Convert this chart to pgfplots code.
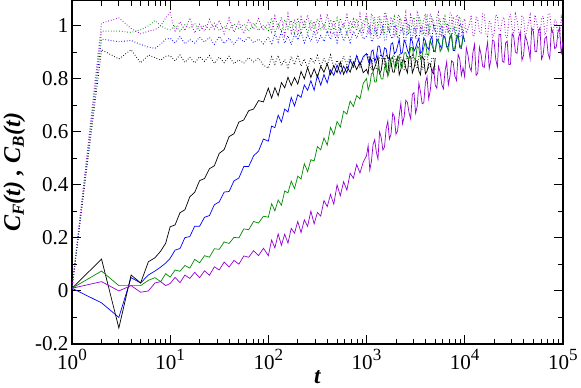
\documentclass[border=0pt]{standalone}
\usepackage{fontspec}
\setmainfont{Liberation Serif}
\usepackage{pgfplots}
\pgfplotsset{compat=1.18}
\usepackage{pgfplotstable}
\definecolor{grgreen}{RGB}{0,139,0}
\definecolor{grviolet}{RGB}{148,0,211}
\newcommand\ee[1]{10\raisebox{0.42em}{\fontsize{17}{17}\selectfont #1}}

% t, then C(t) for black, blue, green, violet; s = solid, d = dotted
\pgfplotstableread{
t bs bd us ud gs gd ps pd
1 0.01 0.01 0.01 0.01 0.01 0.01 0.01 0.01
2 0.12 0.91 -0.045 0.95 0.075 0.98 0.035 1.01
3 -0.14 0.875 -0.10 0.94 0.02 0.98 0.0 1.03
4 0.06 0.91 0.05 0.945 0.02 0.975 0.02 0.99
5 0.03 0.86 0.03 0.93 0.02 0.985 -0.005 0.97
6 0.11 0.89 0.06 0.92 0.04 1.0 0.0 0.98
7 0.125 0.88 0.075 0.915 0.05 1.02 0.03 0.985
8 0.15 0.87 0.09 0.93 0.035 1.0 0.035 1.0
9 0.18 0.885 0.105 0.95 0.065 0.99 0.02 1.03
10 .242 .887 .123 .953 .052 .985 .028 1.05
11.22 .249 .868 .154 .936 .079 1.001 .051 .976
12.59 .295 .890 .160 .960 .074 .980 .031 1.015
14.13 .306 .862 .201 .932 .096 1.004 .060 .982
15.85 .355 .881 .205 .948 .086 .991 .047 1.030
17.78 .372 .860 .244 .935 .119 1.009 .070 .973
19.95 .416 .884 .244 .957 .106 .983 .050 1.006
22.39 .424 .866 .278 .939 .133 1.003 .076 .979
25.12 .461 .888 .284 .956 .127 .986 .059 1.024
28.18 .472 .858 .325 .930 .159 1.010 .091 .988
31.62 .519 .882 .336 .960 .157 .982 .079 1.021
35.48 .533 .861 .373 .933 .185 .998 .109 .970
39.81 .582 .885 .375 .953 .179 .985 .090 1.030
44.67 .593 .857 .415 .930 .202 1.007 .115 .976
50.12 .637 .872 .426 .956 .200 .989 .101 1.015
56.23 .645 .859 .469 .939 .234 1.006 .132 .970
63.10 .680 .880 .469 .959 .231 .980 .127 1.021
70.79 .686 .864 .510 .936 .262 1.010 .152 .988
79.43 .718 .878 .527 .950 .256 .983 .133 1.027
89.13 .713 .852 .573 .932 .282 1.003 .161 .982
100 .765 .840 .565 .958 .278 .982 .133 1.013
108.0 .727 .883 .622 .928 .329 1.030 .192 .977
116.6 .767 .855 .616 .971 .302 .973 .162 1.037
125.9 .736 .888 .663 .939 .343 1.006 .215 .989
135.9 .786 .850 .637 .977 .323 .979 .172 1.033
146.8 .766 .873 .686 .935 .377 1.024 .214 .965
158.5 .806 .843 .675 .963 .370 .988 .180 1.045
171.1 .775 .885 .730 .929 .414 1.021 .236 .973
184.8 .805 .853 .698 .969 .386 .970 .218 1.025
199.5 .780 .890 .740 .947 .433 1.030 .262 .965
215.4 .828 .848 .730 .978 .422 .976 .220 1.033
232.6 .800 .875 .777 .936 .480 1.015 .268 .989
251.2 .843 .840 .757 .968 .450 .970 .244 1.041
271.2 .805 .880 .793 .941 .495 1.021 .301 .981
292.9 .838 .858 .757 .982 .490 .988 .253 1.017
316.2 .806 .888 .814 .935 .545 1.027 .296 .969
341.5 .847 .845 .776 .963 .532 .982 .282 1.037
368.7 .825 .878 .816 .941 .577 1.009 .341 .985
398.1 .857 .850 .785 .979 .550 .973 .318 1.045
429.9 .816 .890 .834 .949 .617 1.024 .364 .977
464.2 .850 .843 .813 .978 .589 .985 .327 1.021
501.2 .823 .870 .852 .936 .639 1.030 .400 .965
541.2 .864 .848 .819 .986 .618 .979 .359 1.029
584.3 .817 .885 .848 .942 .678 1.012 .412 .993
631.0 .847 .855 .823 .975 .667 .970 .380 1.041
681.3 .825 .883 .871 .937 .716 1.018 .444 .973
735.6 .864 .840 .845 .980 .696 .991 .425 1.025
794.3 .835 .890 .888 .953 .737 1.027 .477 .981
857.7 .864 .845 .851 .987 .724 .976 .445 1.045
926.1 .823 .878 .884 .950 .783 1.015 .486 .969
1000 .836 .895 .895 .961 .801 1.032 .510 1.050
1039 .818 .889 .870 .985 .758 1.014 .548 .974
1080 .882 .844 .854 .997 .777 .979 .456 .969
1122 .871 .835 .904 .940 .818 .965 .489 1.046
1166 .829 .877 .909 .947 .825 1.011 .552 1.028
1212 .843 .874 .866 .992 .788 1.032 .571 .987
1259 .861 .835 .880 .986 .789 .969 .524 .960
1308 .885 .844 .924 .953 .842 .990 .497 1.032
1359 .819 .883 .923 .953 .825 1.028 .600 1.037
1413 .832 .892 .889 .977 .800 1.021 .578 .969
1468 .878 .856 .882 1.002 .799 .983 .531 .987
1526 .878 .853 .917 .945 .843 .969 .544 1.050
1585 .833 .892 .913 .945 .859 1.035 .612 1.046
1648 .815 .883 .876 .996 .810 1.021 .640 .992
1711 .885 .841 .881 .978 .829 .976 .573 .978
1778 .861 .841 .931 .957 .876 .993 .592 1.028
1848 .826 .880 .936 .952 .883 1.014 .670 1.019
1920 .825 .895 .896 1.002 .849 1.035 .658 .960
1995 .864 .847 .901 .997 .841 .965 .591 .965
2073 .882 .856 .924 .952 .885 .983 .604 1.037
2154 .815 .895 .950 .961 .883 1.021 .661 1.041
2239 .836 .880 .894 .985 .847 1.028 .708 .978
2326 .871 .838 .900 .994 .846 .990 .630 .983
2418 .871 .835 .946 .943 .897 .965 .657 1.014
2512 .840 .871 .934 .944 .899 1.032 .719 1.050
2610 .822 .886 .908 1.001 .877 1.011 .711 .965
2712 .882 .844 .893 1.004 .877 .972 .672 .974
2818 .885 .847 .954 .965 .919 .976 .649 1.041
2929 .822 .889 .942 .950 .918 1.018 .741 1.023
3043 .840 .871 .904 .992 .879 1.032 .748 .983
3162 .868 .853 .916 .990 .872 .979 .670 .960
3286 .868 .838 .938 .948 .923 .986 .697 1.050
3415 .829 .886 .953 .945 .916 1.035 .784 1.032
3548 .815 .889 .897 .993 .874 1.021 .751 .974
3687 .885 .835 .903 .996 .888 .969 .707 .992
3831 .875 .850 .955 .969 .918 .972 .709 1.023
3981 .819 .895 .943 .963 .941 1.007 .786 1.046
4137 .829 .895 .919 1.005 .893 1.035 .808 .960
4299 .857 .841 .911 1.002 .889 .976 .725 .969
4467 .857 .844 .948 .961 .945 .990 .757 1.046
4642 .826 .880 .960 .958 .926 1.028 .824 1.028
4823 .819 .877 .903 1.000 .910 1.018 .843 .992
5012 .878 .835 .904 .985 .902 .986 .776 .978
5208 nan nan .950 .946 .943 .965 .764 1.032
5412 nan nan .938 .949 .950 1.025 .847 1.050
5623 nan nan .926 .986 .903 1.025 .826 .965
5843 nan nan .912 1.001 .917 .965 .779 .965
6072 nan nan .963 .956 .961 .979 .762 1.032
6310 nan nan .958 .962 .953 1.035 .830 1.014
6556 nan nan .920 1.004 .925 1.007 .864 .996
6813 nan nan .923 1.008 .905 .972 .777 .974
7079 nan nan .960 .966 .952 .969 .810 1.050
7356 nan nan .957 .957 .968 1.018 .868 1.041
7644 nan nan .907 .996 .910 1.028 .862 .983
7943 nan nan .907 .990 .917 .965 .810 .987
8254 nan nan .946 .954 .964 .983 .794 1.041
8577 nan nan .968 .948 .959 1.025 .892 1.037
8913 nan nan .917 1.008 .928 1.035 .875 .960
9261 nan nan .915 .997 .917 .986 .813 .960
9624 nan nan .966 .970 .955 .976 .842 1.019
10000 nan nan .94 .98 .95 1.0 .807 1.027
10390 nan nan nan nan nan nan .918 .973
10800 nan nan nan nan nan nan .890 .987
11220 nan nan nan nan nan nan .845 1.009
11660 nan nan nan nan nan nan .829 1.041
12120 nan nan nan nan nan nan .898 .960
12590 nan nan nan nan nan nan .930 .964
13080 nan nan nan nan nan nan .813 1.036
13590 nan nan nan nan nan nan .821 1.023
14130 nan nan nan nan nan nan .920 .978
14680 nan nan nan nan nan nan .892 .973
15260 nan nan nan nan nan nan .847 1.045
15850 nan nan nan nan nan nan .843 1.045
16480 nan nan nan nan nan nan .900 .969
17110 nan nan nan nan nan nan .938 .960
17780 nan nan nan nan nan nan .839 1.018
18480 nan nan nan nan nan nan .871 1.009
19200 nan nan nan nan nan nan .946 .955
19950 nan nan nan nan nan nan .942 .969
20730 nan nan nan nan nan nan .873 1.041
21540 nan nan nan nan nan nan .845 1.036
22390 nan nan nan nan nan nan .967 .987
23260 nan nan nan nan nan nan .968 .982
24180 nan nan nan nan nan nan .867 1.027
25120 nan nan nan nan nan nan .862 1.032
26100 nan nan nan nan nan nan .935 .960
27120 nan nan nan nan nan nan .942 .955
28180 nan nan nan nan nan nan .854 1.027
29290 nan nan nan nan nan nan .855 1.045
30430 nan nan nan nan nan nan .970 .991
31620 nan nan nan nan nan nan .959 .964
32860 nan nan nan nan nan nan .901 1.045
34150 nan nan nan nan nan nan .896 1.023
35480 nan nan nan nan nan nan .957 .978
36870 nan nan nan nan nan nan .976 .955
38310 nan nan nan nan nan nan .870 1.036
39810 nan nan nan nan nan nan .889 1.032
41370 nan nan nan nan nan nan .962 .955
42990 nan nan nan nan nan nan .945 .982
44670 nan nan nan nan nan nan .917 1.014
46420 nan nan nan nan nan nan .876 1.041
48230 nan nan nan nan nan nan .991 .969
50120 nan nan nan nan nan nan .979 .973
52080 nan nan nan nan nan nan .902 1.041
54120 nan nan nan nan nan nan .902 1.014
56230 nan nan nan nan nan nan .980 .982
58430 nan nan nan nan nan nan .993 .960
60720 nan nan nan nan nan nan .874 1.027
63100 nan nan nan nan nan nan .892 1.036
65560 nan nan nan nan nan nan .952 .964
68130 nan nan nan nan nan nan .959 .978
70790 nan nan nan nan nan nan .894 1.045
73560 nan nan nan nan nan nan .876 1.045
76440 nan nan nan nan nan nan .991 .987
79430 nan nan nan nan nan nan .973 .969
82540 nan nan nan nan nan nan .914 1.023
85770 nan nan nan nan nan nan .920 1.018
89130 nan nan nan nan nan nan .975 .955
92610 nan nan nan nan nan nan .993 .955
96240 nan nan nan nan nan nan .892 1.032
100000 nan nan nan nan nan nan .94 1.0
}\corr

\begin{document}
\begin{tikzpicture}
\begin{axis}[
  scale only axis, width=489pt, height=342pt,
  xmode=log, xmin=1, xmax=1e5, ymin=-0.2, ymax=1.095,
  xtick={1,10,100,1000,10000,100000},
  xticklabels={\ee{0},\ee{1},\ee{2},\ee{3},\ee{4},\ee{5}},
  ytick={-0.2,0,0.2,0.4,0.6,0.8,1},
  yticklabels={-0.2,0,0.2,0.4,0.6,0.8,1},
  minor y tick num=1,
  tick align=inside, major tick length=9pt, minor tick length=5pt,
  every tick/.style={black, line width=0.9pt},
  axis line style={line width=1.3pt},
  font=\fontsize{21}{24}\selectfont,
  xticklabel style={yshift=-2pt},
  xlabel={\fontsize{23}{26}\selectfont\bfseries\itshape t},
  ylabel={\fontsize{24}{27}\selectfont\bfseries\itshape
    C\textsubscript{F}(t) , C\textsubscript{B}(t)},
  xlabel style={yshift=6pt}, ylabel style={yshift=3pt},
  unbounded coords=jump,
  every axis plot/.append style={line width=0.7pt},
]
\addplot[black, dotted, line width=0.9pt] table[x=t, y=bd] {\corr};
\addplot[blue, dotted, line width=0.9pt] table[x=t, y=ud] {\corr};
\addplot[grgreen, dotted, line width=0.9pt] table[x=t, y=gd] {\corr};
\addplot[blue] table[x=t, y=us] {\corr};
\addplot[black] table[x=t, y=bs] {\corr};
\addplot[grgreen] table[x=t, y=gs] {\corr};
\addplot[grviolet, dotted, line width=0.9pt] table[x=t, y=pd] {\corr};
\addplot[grviolet] table[x=t, y=ps] {\corr};
\end{axis}
\end{tikzpicture}
\end{document}
